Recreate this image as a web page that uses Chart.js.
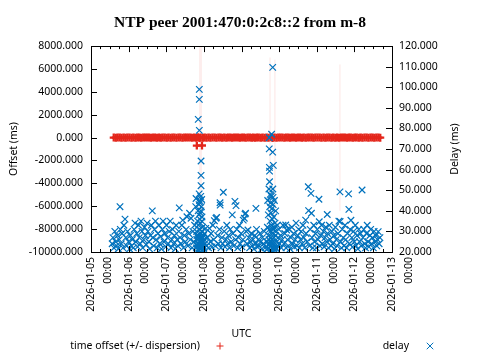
<!DOCTYPE html>
<html>
<head>
<meta charset="utf-8">
<script src="https://cdn.jsdelivr.net/npm/chart.js@4.4.1/dist/chart.umd.min.js"></script>
<style>
  html, body { margin: 0; padding: 0; background: #fff; }
  #wrap { width: 480px; height: 360px; }
</style>
</head>
<body>
<div id="wrap"><canvas id="ntp-chart" width="480" height="360"></canvas></div>
<script>
// x values are hours since 2026-01-05 00:00 UTC
const dayLabels = ['2026-01-05', '2026-01-06', '2026-01-07', '2026-01-08', '2026-01-09',
                   '2026-01-10', '2026-01-11', '2026-01-12', '2026-01-13'];
const timeLabel = '00:00';

// time offset (ms)
const offsetPoints = [
  [14.5,3],[15.8,-5],[17,8],[18.3,2],[19.5,-4],[20.8,6],[22,-2],[23.2,10],[24.5,1],[25.8,-7],
  [27,4],[28.3,-3],[29.5,9],[30.7,0],[32,-6],[33.3,5],[34.5,12],[35.8,-1],[37,3],[38.2,-8],
  [39.5,6],[40.8,2],[42,-4],[43.3,7],[44.5,-2],[45.7,11],[47,0],[48.3,-5],[49.5,4],[50.8,-9],
  [52,3],[53.2,8],[54.5,-3],[55.8,1],[57,6],[58.3,-6],[59.5,2],[60.7,9],[62,-1],[63.3,4],
  [64.5,-7],[65.8,14],[67,-12],[67.5,-700],[68.3,25],[69.2,-30],[70,18],[70.8,-690],[71.5,-10],[72.5,6],
  [73.7,-3],[75,5],[76.2,-2],[77.5,8],[78.8,0],[80,-5],[81.3,3],[82.5,7],[83.7,-4],[85,2],
  [86.3,-8],[87.5,5],[88.8,1],[90,-3],[91.2,9],[92.5,-1],[93.8,4],[95,-6],[96.3,3],[97.5,7],
  [98.7,-2],[100,0],[101.3,5],[102.5,-4],[103.5,2],
  [104.7,-3],[105.8,6],[107,1],[108.3,-5],[109.5,8],[110.8,-2],[112,15],[113.2,-20],[114.5,30],[115.8,-25],
  [117,12],[118.3,-8],[119.5,4],[120.7,-1],[122,6],[123.3,-3],[124.5,2],[125.8,7],[127,-5],[128.2,0],
  [129.5,4],[130.8,-6],[132,3],[133.3,9],[134.5,-2],[135.7,1],[137,-4],[138.3,6],[139.5,-1],[140.8,3],
  [142,-7],[143.2,5],[144.5,0],[145.8,8],[147,-3],[148.3,2],[149.5,-5],[150.7,4],[152,1],[153.3,-2],
  [154.5,6],[155.8,-4],[157,3],[158.2,-9],[159.5,12],[160.8,-1],[162,4],[163.3,-6],[164.5,2],[165.7,7],
  [167,-3],[168.3,1],[169.5,5],[170.8,-2],[172,3],[173.2,-5],[174.5,8],[175.8,0],[177,-4],[178.3,2],
  [179.5,6],[180.7,-3],[182,1],[183.3,4],[184.5,-2]
];

// [hour, offset, dispersion] for the few large error bars
const dispersionBars = [
  [69.4, 0, 11000], [70.3, 0, 10500], [114.2, 0, 7000], [117.3, 0, 6800], [158.8, 0, 6400]
];

// delay (ms)
const delayPoints = [
  [13.5,24],[14,27],[14.6,22],[15.2,30],[15.8,25],[16.3,23],[16.9,28],[17.4,21.5],[18,26],[18.5,42],
  [18.7,31],[19.3,24],[19.8,29],[20.4,22],[21,33],[21.7,36],[22.2,27],[22.8,23],[23.3,30],[24,25],
  [24.6,21.5],[25.1,28],[25.8,23],[26.4,26],[27,22],[27.5,31],[28.1,34],[28.6,25],[29.2,29],[29.7,22.5],
  [30.3,33],[30.8,27],[31.4,24],[31.9,35],[32.5,30],[33,22],[33.6,26],[34.1,32],[34.7,28],[35.2,23.5],
  [35.8,34],[36.3,30],[36.9,25],[37.4,21.5],[38,28],[38.5,33],[39.1,40],[39.4,27],[40,23],[40.5,31],
  [41.1,35],[41.6,26],[42.2,22],[42.7,29],[43.3,33],[43.8,24],[44.4,27.5],[44.9,21.5],[45.5,31],[46,35],
  [46.6,25],[47.1,29],[47.7,22.5],[48.2,33],[48.8,27],[49.3,24],
  [49.9,30],[50.5,35],[51,22],[51.6,26],[52.1,31],[52.7,24],[53.2,28],[53.8,21.5],[54.3,33],[54.9,26],
  [55.4,23],[56,30],[56.3,41.4],[56.8,27],[57.3,24],[57.9,33],[58.5,35.5],[59,22],[59.6,28],[60.1,25],
  [60.7,31],[61.2,37.1],[61.8,23],[62.3,29],[62.9,38.8],[63.4,26],[63.8,36.4],[64.5,22],[65,30],[65.6,25],
  [66.1,33],
  [66.8,42],[67,46],[67.3,30],[67.5,23],[67.8,26],[68,35],[68.2,21],[68.4,84.4],[68.5,28],[68.7,24],
  [68.8,38],[69,48.2],[69.1,99],[69.1,94.1],[69.1,79.1],[69.2,22],[69.3,31],[69.4,27],[69.5,44],[69.6,25],
  [69.7,21.5],[69.8,34],[69.9,29],[70,23],[70.1,40],[70.2,64.2],[70.2,57.2],[70.2,52.2],[70.3,26],[70.4,22],
  [70.5,30],[70.6,45.5],[70.7,24],[70.8,37],[70.9,27],[71,21],[71.2,32],[71.4,25],[71.6,23],[71.8,28],
  [72,22],[72.3,26],[72.6,24],[68.3,40],[68.9,43],[69.4,36],[70,47],[70.4,42],[69.8,39],[68.6,33],
  [70.7,35],[69.2,45],[67.2,22],[67.9,24],[68.1,27],[68.9,22],[69.5,23.5],[70.1,21.5],[70.6,25],[71.1,23],
  [71.3,27],[71.9,21.5],[72.4,29],[67.6,28],[68.6,20.8],[70.9,22.5],
  [73.2,31.5],[73.8,23],[74.4,27],[75,22],[75.5,31.5],[76.1,25],[76.6,29],[77.2,22.5],[77.7,33],[78.3,26],
  [78.7,35.2],[79.3,23],[79.7,36.4],[80.2,36.8],[80.8,28],[81.3,24],[81.9,31],[82.3,43.9],[82.4,42.8],[82.9,22],
  [83.5,27],[84,24],[84.4,49],[85,30],[85.5,22.5],[86.1,26],[86.6,33],[87.2,24],[87.7,28],[88.3,22],
  [88.8,31],[89.4,25],[90.1,38],[90.5,29],[91,23],[91.8,44.6],[92.2,26],[92.5,42.5],[93,31],[93.6,22],
  [94.1,27],[94.7,33],[95.2,24],[95.8,29],[96.3,22.5],[96.9,26],[97.1,35.5],[97.8,36.4],[98.2,38.4],[98.6,38.8],
  [99,30],[99.5,24],
  [100.1,30.7],[100.6,27],[101.2,22],[101.7,25],[102.3,29],[102.8,23],[103.4,26],[103.9,21.5],[104.5,28],[105,24],
  [105.2,41.2],[105.6,31],[106.1,22.5],[106.7,26],[107.2,23],[107.8,29],[108.3,25],[108.9,21.5],[109.4,27],[110,24],
  [110.5,30],[111,22],
  [112.3,25],[112.5,32],[112.7,45],[112.9,22],[113.1,38],[113.3,28],[113.5,50.6],[113.7,75.5],[113.7,70.1],[113.8,61.1],
  [113.9,59.3],[113.9,54.1],[114,42],[114.1,24],[114.2,35],[114.3,48],[114.4,21],[114.5,30],[114.6,44],[114.7,27],
  [114.8,39],[114.9,23],[115,47],[115.1,33],[115.2,77.2],[115.3,26],[115.4,41],[115.5,22],[115.6,36],[115.7,29],
  [115.9,109.7],[115.9,68.5],[116,50.6],[116.1,24],[116.2,43],[116.3,62.1],[116.4,31],[116.5,21.5],[116.6,37],[116.8,27],
  [117,45],[117.2,23],[117.4,34],[117.6,28],[117.8,40],[118,22],[118.2,30],[118.5,25],[118.8,33],[119.1,23],
  [119.4,27],[112.6,21.5],[113.2,23.5],[113.6,26],[114.4,25],[115,20.8],[115.8,24.5],[116.7,22.2],[117.5,20.9],[118.3,21.6],
  [113.9,31],[115.5,31.5],[116.9,32],[114.8,47.5],[116.1,46.5],
  [119.8,31],[120.3,24],[120.9,28],[121.4,22],[122,26],[122.5,33],[123.1,24],[123.6,29],[124.2,33.1],[124.4,22],
  [124.8,30.7],[125.3,26],[125.9,23],[126.4,31],[127,21.5],[127.5,27],[128.1,32],[128.6,24],[129.2,29],[129.7,22.5],
  [130.3,26],[130.8,34],[131.4,23],[131.9,28],[132.5,31],[133,22],[133.6,26],[134.1,30],[134.7,24],[135.2,33],
  [135.8,27],[136.3,22],[136.9,35.5],[137.2,29],[137.9,25],[138.6,51.7],[138.8,40.1],[139.3,23],[139.8,31],[140.3,48.5],
  [140.6,38.8],[141,27],[141.5,22],[142.1,33],[142.6,25],[143.2,29],[143.7,22],[144.3,31],[144.8,26],[145.4,45.6],
  [145.6,34.7],[146,23],[146.5,28],[147.1,33],[147.6,24],[148.2,30],[148.7,22.5],[149.3,27],[149.8,32],
  [150.4,25],[150.7,38.2],[150.9,29],[151.5,22],[152,33],[152.6,26],[153.1,23],[153.7,30],[154.2,24],[154.8,28],
  [155.3,21.5],[155.9,32],[156.4,26],[157,23],[157.5,29],[158.1,35],[158.8,49.2],[158.9,34.8],[159.2,25],[159.8,22],
  [160.3,31],[160.9,27],[161.4,23],[162,33],[162.5,26],[163.1,22],[163.6,29],[164.3,48.2],[164.5,40.7],[164.8,24],
  [165.3,31],[165.8,35.4],[166.4,27],[166.9,22.5],[167.5,30],[168,25],[168.6,33],[169.1,23],[169.7,28],[170.2,21.5],
  [170.8,31],[171.3,25],[171.9,29],[172.4,23],[172.9,50.1],[173.5,27],[174,31],[174.6,24],[175.1,22],[175.7,29],
  [176.2,33],[176.8,25],[177.3,22.5],[177.9,28],[178.4,31],[179,24],[179.5,27],[180.1,22],[180.6,30],[181.2,25],
  [181.7,28],[182.3,23],[182.8,26],[183.2,29.9],[183.8,24],[184.3,27]
];

const RED = 'rgb(228,38,27)';
const BLUE = 'rgb(0,114,189)';
const FONT = 'Noto Sans';

Chart.defaults.font.family = FONT;
Chart.defaults.font.size = 10.5;
Chart.defaults.color = '#000';

// gnuplot-like frame: border, inward ticks, dispersion bars, key and y2 title
const gnuplotFrame = {
    id: 'gnuplotFrame',
    beforeDatasetsDraw(chart) {
        const { ctx, chartArea, scales } = chart;
        ctx.save();
        ctx.beginPath();
        ctx.rect(chartArea.left, chartArea.top, chartArea.right - chartArea.left, chartArea.bottom - chartArea.top);
        ctx.clip();
        ctx.strokeStyle = 'rgba(228,38,27,0.08)';
        ctx.lineWidth = 1.5;
        dispersionBars.forEach(([h, off, disp]) => {
            const x = scales.x.getPixelForValue(h);
            ctx.beginPath();
            ctx.moveTo(x, scales.y.getPixelForValue(off - disp));
            ctx.lineTo(x, scales.y.getPixelForValue(off + disp));
            ctx.stroke();
        });
        ctx.restore();
    },
    afterDraw(chart) {
        const { ctx, chartArea, scales } = chart;
        const { left, right, top, bottom } = chartArea;
        ctx.save();
        ctx.strokeStyle = '#000';
        ctx.lineWidth = 1;
        ctx.beginPath();
        scales.x.ticks.forEach(t => {
            const x = Math.round(scales.x.getPixelForValue(t.value)) + 0.5;
            const len = t.value % 24 === 0 ? 6 : 3;
            ctx.moveTo(x, bottom); ctx.lineTo(x, bottom - len);
            ctx.moveTo(x, top); ctx.lineTo(x, top + len);
        });
        scales.y.ticks.forEach(t => {
            const y = Math.round(scales.y.getPixelForValue(t.value)) + 0.5;
            ctx.moveTo(left, y); ctx.lineTo(left + 6, y);
        });
        scales.y2.ticks.forEach(t => {
            const y = Math.round(scales.y2.getPixelForValue(t.value)) + 0.5;
            ctx.moveTo(right, y); ctx.lineTo(right - 6, y);
        });
        ctx.stroke();
        ctx.strokeRect(Math.round(left) + 0.5, Math.round(top) + 0.5,
                       Math.round(right - left), Math.round(bottom - top));

        // right axis title, reading upwards like the left one
        ctx.font = '10.5px "' + FONT + '"';
        ctx.fillStyle = '#000';
        ctx.textAlign = 'center';
        ctx.textBaseline = 'middle';
        ctx.translate(455, (top + bottom) / 2);
        ctx.rotate(-Math.PI / 2);
        ctx.fillText('Delay (ms)', 0, 0);
        ctx.restore();

        // key
        ctx.save();
        ctx.font = '10.5px "' + FONT + '"';
        ctx.fillStyle = '#000';
        ctx.textAlign = 'right';
        ctx.textBaseline = 'middle';
        ctx.fillText('time offset (+/- dispersion)', 200, 346);
        ctx.fillText('delay', 409, 346);
        ctx.strokeStyle = RED;
        Chart.helpers.drawPoint(ctx, { pointStyle: 'cross', radius: 3.5, borderWidth: 1.2 }, 220, 346);
        ctx.strokeStyle = BLUE;
        Chart.helpers.drawPoint(ctx, { pointStyle: 'crossRot', radius: 4.6, borderWidth: 1.2 }, 430, 346);
        ctx.restore();
    }
};

const toXY = pts => pts.map(([h, v]) => ({ x: h, y: v }));

new Chart(document.getElementById('ntp-chart'), {
    type: 'scatter',
    data: {
        datasets: [{
            label: 'time offset (+/- dispersion)',
            data: toXY(offsetPoints),
            yAxisID: 'y',
            pointStyle: 'cross',
            pointRadius: 4,
            borderColor: RED,
            backgroundColor: RED,
            borderWidth: 2.3,
            order: 1
        }, {
            label: 'delay',
            data: toXY(delayPoints),
            yAxisID: 'y2',
            pointStyle: 'crossRot',
            pointRadius: 4.6,
            borderColor: BLUE,
            backgroundColor: BLUE,
            borderWidth: 1.2,
            order: 0
        }]
    },
    options: {
        responsive: false,
        animation: false,
        events: [],
        layout: { padding: { top: 0, bottom: 20, left: 0, right: 0 } },
        plugins: {
            legend: { display: false },
            tooltip: { enabled: false },
            title: {
                display: true,
                text: 'NTP peer 2001:470:0:2c8::2 from m-8',
                color: '#000',
                font: { family: 'Liberation Serif', size: 15.5, weight: 'bold', lineHeight: 1.2 },
                padding: { top: 13.5, bottom: 14 }
            }
        },
        scales: {
            x: {
                type: 'linear',
                min: 0,
                max: 192,
                grid: { display: false, drawTicks: false },
                border: { display: false },
                ticks: {
                    stepSize: 6,
                    maxTicksLimit: 40,
                    autoSkip: false,
                    minRotation: 90,
                    maxRotation: 90,
                    padding: 5,
                    font: { lineHeight: 1.6 },
                    callback: v => (v % 24 === 0 ? [dayLabels[v / 24], timeLabel] : '')
                },
                title: { display: true, text: 'UTC', padding: { top: 0, bottom: 0 } },
                afterFit: s => { s.height = 88; }
            },
            y: {
                position: 'left',
                min: -10000,
                max: 8000,
                grid: { display: false, drawTicks: false },
                border: { display: false },
                ticks: { stepSize: 2000, padding: 8, callback: v => v.toFixed(3) },
                title: { display: true, text: 'Offset (ms)', padding: { top: 8, bottom: 0 } },
                afterFit: s => { s.width = 91; }
            },
            y2: {
                position: 'right',
                min: 20,
                max: 120,
                grid: { display: false, drawTicks: false },
                border: { display: false },
                ticks: { stepSize: 10, padding: 7, callback: v => v.toFixed(3) },
                afterFit: s => { s.width = 88; }
            }
        }
    },
    plugins: [gnuplotFrame]
});
</script>
</body>
</html>
